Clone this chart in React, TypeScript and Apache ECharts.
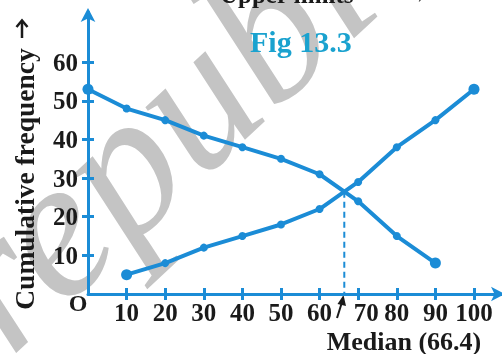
import React, { useEffect, useRef } from "react";
import * as echarts from "echarts";

const upperLimits = [10, 20, 30, 40, 50, 60, 70, 80, 90, 100];
const lessThanCF = [5, 8, 12, 15, 18, 22, 29, 38, 45, 53];
const lowerLimits = [0, 10, 20, 30, 40, 50, 60, 70, 80, 90];
const moreThanCF = [53, 48, 45, 41, 38, 35, 31, 24, 15, 8];
const xTickValues = [10, 20, 30, 40, 50, 60, 70, 80, 90, 100];
const yTickValues = [10, 20, 30, 40, 50, 60];
const medianX = 66.4;
const medianY = 26.5;

const BLUE = "#1b8cd6";
const FONT = "'Liberation Serif', 'Times New Roman', serif";

export default function App() {
  const ref = useRef<HTMLDivElement>(null);
  useEffect(() => {
    if (!ref.current) return;
    const chart = echarts.init(ref.current, undefined, { renderer: "svg" });
    const lessData = upperLimits.map((x, i) => [x, lessThanCF[i]]);
    const moreData = lowerLimits.map((x, i) => [x, moreThanCF[i]]);
    const endSize = (n: number) => (_v: any, p: any) =>
      p.dataIndex === 0 || p.dataIndex === n - 1 ? 11 : 8;
    const labelStyle = {
      color: "#1a1a1a",
      fontFamily: FONT,
      fontWeight: "bold" as const,
      fontSize: 25,
    };
    const axisCommon = (isX: boolean) => ({
      type: "value" as const,
      min: 0,
      max: isX ? 107 : 73,
      splitLine: { show: false },
    });
    chart.setOption({
      animation: false,
      grid: { left: 88, right: 1, top: 12, bottom: 60 },
      xAxis: [
        {
          ...axisCommon(true),
          axisLine: {
            show: true,
            lineStyle: { color: BLUE, width: 3 },
            symbol: ["none", "arrow"],
            symbolSize: [11, 14],
            symbolOffset: [0, 4],
          },
          axisTick: {
            show: true,
            length: 6,
            lineStyle: { color: BLUE, width: 3 },
            customValues: xTickValues,
          },
          axisLabel: {
            ...labelStyle,
            margin: 6,
            customValues: xTickValues,
            formatter: (v: number) => (v === 70 ? "{s|70}" : String(v)),
            rich: { s: { ...labelStyle, padding: [0, 0, 0, 16] } },
          },
        },
        {
          ...axisCommon(true),
          axisLine: { show: false },
          axisTick: {
            show: true,
            inside: true,
            length: 6,
            lineStyle: { color: BLUE, width: 3 },
            customValues: xTickValues,
          },
          axisLabel: { show: false },
          position: "bottom",
        },
      ],
      yAxis: [
        {
          ...axisCommon(false),
          axisLine: {
            show: true,
            lineStyle: { color: BLUE, width: 3 },
            symbol: ["none", "arrow"],
            symbolSize: [11, 14],
            symbolOffset: [0, 4],
          },
          axisTick: {
            show: true,
            length: 6,
            lineStyle: { color: BLUE, width: 3 },
            customValues: yTickValues,
          },
          axisLabel: { ...labelStyle, margin: 10, customValues: yTickValues },
        },
        {
          ...axisCommon(false),
          axisLine: { show: false },
          axisTick: {
            show: true,
            inside: true,
            length: 6,
            lineStyle: { color: BLUE, width: 3 },
            customValues: yTickValues,
          },
          axisLabel: { show: false },
          position: "left",
        },
      ],
      series: [
        {
          type: "line",
          data: lessData,
          symbol: "circle",
          symbolSize: endSize(lessData.length),
          itemStyle: { color: BLUE },
          lineStyle: { color: BLUE, width: 4 },
          z: 5,
        },
        {
          type: "line",
          data: moreData,
          symbol: "circle",
          symbolSize: endSize(moreData.length),
          itemStyle: { color: BLUE },
          lineStyle: { color: BLUE, width: 4 },
          clip: false,
          z: 5,
        },
        {
          type: "line",
          data: [
            [medianX, medianY],
            [medianX, 0],
          ],
          symbol: "none",
          lineStyle: { color: BLUE, width: 2, type: [6, 4] },
          z: 4,
        },
      ],
      graphic: [
        {
          type: "text",
          x: -104,
          y: 236,
          rotation: 0.75,
          z: -10,
          style: {
            text: "republished",
            fill: "#c4c4c4",
            font: "italic 200px 'Liberation Serif', serif",
            verticalAlign: "top",
          },
        },
        {
          type: "text",
          x: 220,
          y: -18,
          style: {
            text: "Upper limits",
            fill: "#1a1a1a",
            font: "bold 25px " + FONT,
            verticalAlign: "top",
          },
        },
        {
          type: "text",
          x: 403,
          y: -18,
          style: {
            text: "→",
            fill: "#1a1a1a",
            font: "bold 25px " + FONT,
            verticalAlign: "top",
          },
        },
        {
          type: "text",
          x: 250,
          y: 26,
          style: {
            text: "Fig 13.3",
            fill: "#1aa2cf",
            font: "bold 30px " + FONT,
            verticalAlign: "top",
          },
        },
        {
          type: "text",
          x: 24,
          y: 179,
          rotation: Math.PI / 2,
          style: {
            text: "Cumulative frequency",
            fill: "#1a1a1a",
            font: "bold 27.5px " + FONT,
            align: "center",
            verticalAlign: "middle",
          },
        },
        {
          type: "line",
          shape: { x1: 22, y1: 38, x2: 22, y2: 22 },
          style: { stroke: "#1a1a1a", lineWidth: 2.5 },
        },
        {
          type: "polyline",
          shape: {
            points: [
              [16.5, 27],
              [22, 20.5],
              [27.5, 27],
            ],
          },
          style: { stroke: "#1a1a1a", lineWidth: 2.5, fill: "none" },
        },
        {
          type: "text",
          x: 78,
          y: 303,
          style: {
            text: "O",
            fill: "#1a1a1a",
            font: "bold 24px " + FONT,
            align: "center",
            verticalAlign: "middle",
          },
        },
        {
          type: "line",
          shape: { x1: 337, y1: 318, x2: 343, y2: 299 },
          style: { stroke: "#1a1a1a", lineWidth: 2 },
        },
        {
          type: "polygon",
          shape: {
            points: [
              [343.5, 295],
              [337.5, 304],
              [346, 306],
            ],
          },
          style: { fill: "#1a1a1a" },
        },
        {
          type: "text",
          x: 404,
          y: 341,
          style: {
            text: "Median (66.4)",
            fill: "#1a1a1a",
            font: "bold 26px " + FONT,
            align: "center",
            verticalAlign: "middle",
          },
        },
      ],
    });
    return () => chart.dispose();
  }, []);
  return (
    <div
      ref={ref}
      style={{ position: "fixed", left: 0, top: 0, width: 502, height: 354 }}
    />
  );
}
